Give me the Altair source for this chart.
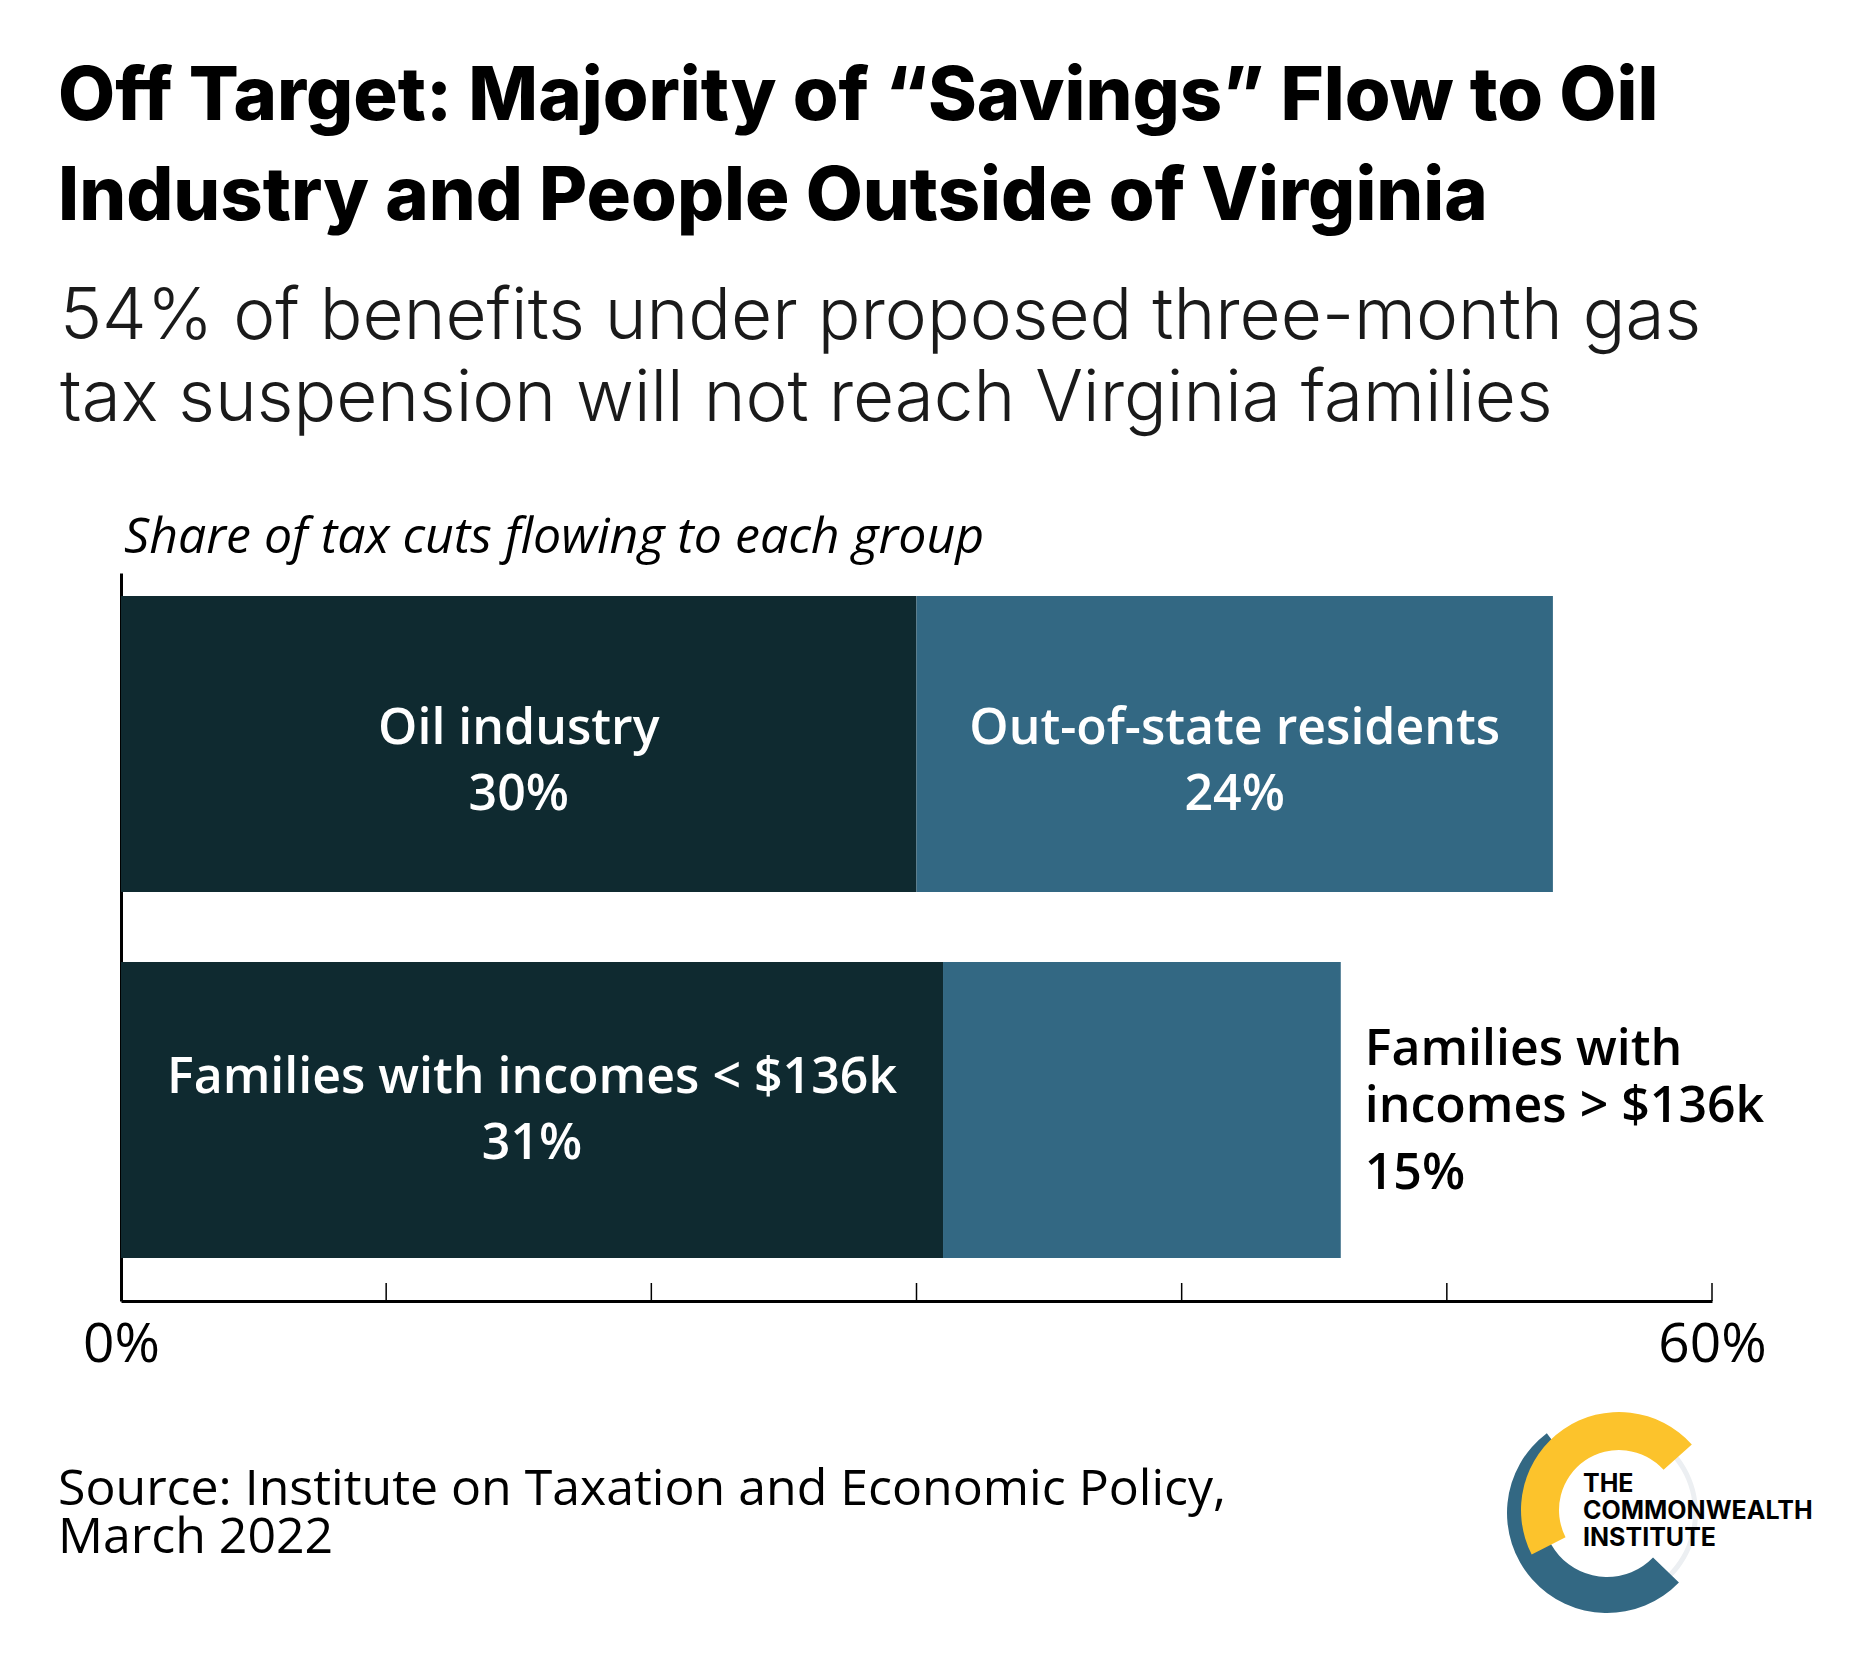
import altair as alt
import pandas as pd
import math

# ---------------- data ----------------
rows = ["Where the money goes", "Virginia families by income"]
segments = ["Oil industry", "Out-of-state residents",
            "Families with incomes < $136k", "Families with incomes > $136k"]
segment_rows = [0, 0, 1, 1]
shares = [30, 24, 31, 15]
label_text = ["Oil industry", "Out-of-state residents",
              "Families with incomes < $136k", "Families with\nincomes > $136k"]
label_inside = [True, True, True, False]
seg_colors = ["#0f2a30", "#336883", "#0f2a30", "#336883"]
tick_values = [0, 10, 20, 30, 40, 50, 60]
axis_label_values = [0, 60]

title_lines = ["Off Target: Majority of \u201cSavings\u201d Flow to Oil",
               "Industry and People Outside of Virginia"]
subtitle_lines = ["54% of benefits under proposed three-month gas",
                  "tax suspension will not reach Virginia families"]
y_caption = "Share of tax cuts flowing to each group"
source_lines = ["Source: Institute on Taxation and Economic Policy,", "March 2022"]
logo_lines = ["THE", "COMMONWEALTH", "INSTITUTE"]

# ---------------- table ----------------
recs = []
cum = {}
for seg, r, s, lab, ins, col in zip(segments, segment_rows, shares, label_text, label_inside, seg_colors):
    st = cum.get(r, 0)
    recs.append(dict(segment=seg, row=rows[r], start=st, end=st + s, mid=st + s / 2,
                     label=lab, pct=f"{s}%", inside=ins, rowi=r))
    cum[r] = st + s
df = pd.DataFrame(recs)

W, H = 1591, 728
FONT = "Open Sans"
HEAD = "Inter"

xscale = alt.Scale(domain=[0, 60], nice=False, zero=True)
yscale = alt.Scale(domain=rows, paddingInner=0.1907, paddingOuter=0.0899, align=0.348)

base = alt.Chart(df)

bars = base.mark_bar().encode(
    x=alt.X("start:Q", scale=xscale,
            axis=alt.Axis(values=axis_label_values, labelExpr="datum.value + '%'",
                          ticks=False, tickSize=0, grid=False, title=None,
                          domainColor="#000000", domainWidth=3,
                          labelFont=FONT, labelFontSize=55, labelColor="#000000",
                          labelBaseline="alphabetic", labelPadding=60,
                          labelOverlap=False, labelFlush=False)),
    x2="end:Q",
    y=alt.Y("row:N", scale=yscale,
            axis=alt.Axis(labels=False, ticks=False, tickSize=0, grid=False, title=None,
                          domainColor="#000000", domainWidth=3)),
    color=alt.Color("segment:N", scale=alt.Scale(domain=segments, range=seg_colors), legend=None),
)

ticks = alt.Chart(pd.DataFrame({"t": tick_values})).mark_rule(color="#000000", strokeWidth=1.5).encode(
    x=alt.X("t:Q", scale=xscale),
    y=alt.value(H - 18), y2=alt.value(H),
)

def inside_text(rowi, field, dy):
    return base.transform_filter(
        (alt.datum.inside == True) & (alt.datum.rowi == rowi)
    ).mark_text(font=FONT, fontSize=50, fontWeight=600, color="#ffffff",
                align="center", baseline="alphabetic", dy=dy).encode(
        x=alt.X("mid:Q", scale=xscale), y=alt.Y("row:N", scale=yscale), text=f"{field}:N")

in1a = inside_text(0, "label", 0)
in1b = inside_text(0, "pct", 66)
in2a = inside_text(1, "label", -17)
in2b = inside_text(1, "pct", 49)

out_lab = base.transform_filter(alt.datum.inside == False).mark_text(
    font=FONT, fontSize=50, fontWeight=600, color="#000000", align="left",
    baseline="alphabetic", dx=24, dy=-45, lineBreak="\n", lineHeight=57).encode(
    x=alt.X("end:Q", scale=xscale), y=alt.Y("row:N", scale=yscale), text="label:N")
out_pct = base.transform_filter(alt.datum.inside == False).mark_text(
    font=FONT, fontSize=50, fontWeight=600, color="#000000", align="left",
    baseline="alphabetic", dx=24, dy=79).encode(
    x=alt.X("end:Q", scale=xscale), y=alt.Y("row:N", scale=yscale), text="pct:N")

one = alt.Data(values=[{"k": 1}])

def deco_text(lines, x, y, **kw):
    return alt.Chart(one).mark_text(text=lines, align="left", baseline="alphabetic", **kw).encode(
        x=alt.value(x), y=alt.value(y))

title = deco_text(title_lines, -63, -453, font=HEAD, fontSize=74, fontWeight=800,
                  color="#000000", lineHeight=100)
subtitle = deco_text(subtitle_lines, -61, -234, font=HEAD, fontSize=71, fontWeight=300,
                     color="#1a1a1a", lineHeight=82)
caption = deco_text(y_caption, 3, -20, font=FONT, fontSize=50, fontStyle="italic",
                    color="#000000")
source = deco_text(source_lines, -63, 932, font=FONT, fontSize=50, color="#000000", lineHeight=48)
logo_txt = deco_text(logo_lines, 1462, 919, font=HEAD, fontSize=25, fontWeight=700,
                     color="#000000", lineHeight=27)

def arc(cx, cy, r_out, r_in, a0, a1, color):
    return alt.Chart(one).mark_arc(color=color).encode(
        x=alt.value(cx), y=alt.value(cy),
        theta=alt.value(math.radians(a0)), theta2=alt.value(math.radians(a1)),
        radius=alt.value(r_out), radius2=alt.value(r_in))

logo_grey = arc(1486, 940, 91, 86, 30, 150, "#eceff2")
logo_blue = arc(1486, 940, 100, 64, 134, 323, "#336883")
logo_yellow = arc(1498, 937, 98, 60, 243, 408, "#fcc32c")

chart = alt.layer(
    bars, ticks, in1a, in1b, in2a, in2b, out_lab, out_pct,
    title, subtitle, caption, source, logo_grey, logo_blue, logo_yellow, logo_txt
).properties(
    width=W, height=H,
    padding={"left": 113, "top": 565, "right": 156, "bottom": 361},
    autosize=alt.AutoSizeParams(type="none"),
    background="#ffffff",
).configure_view(stroke=None)

chart.save("out.html", embed_options={"renderer": "svg", "actions": False})
